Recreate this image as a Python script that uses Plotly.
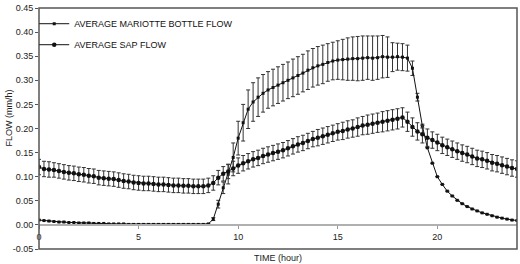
import plotly.graph_objects as go

time_h = [i * 0.25 for i in range(97)]

mariotte_flow = [
    0.010, 0.009, 0.008, 0.007,
    0.006, 0.006, 0.005, 0.005,
    0.004, 0.004, 0.004, 0.003,
    0.003, 0.003, 0.002, 0.002,
    0.002, 0.002, 0.001, 0.001,
    0.001, 0.001, 0.001, 0.001,
    0.001, 0.001, 0.001, 0.001,
    0.001, 0.001, 0.001, 0.001,
    0.001, 0.001, 0.002, 0.012,
    0.043, 0.077, 0.105, 0.140,
    0.180, 0.212, 0.240, 0.255,
    0.265, 0.273, 0.280, 0.285,
    0.290, 0.295, 0.300, 0.305,
    0.310, 0.315, 0.321, 0.326,
    0.330, 0.333, 0.337, 0.340,
    0.342, 0.343, 0.344, 0.345,
    0.345, 0.346, 0.347, 0.346,
    0.347, 0.349, 0.348, 0.348,
    0.349, 0.348, 0.346, 0.325,
    0.265, 0.205, 0.160, 0.128,
    0.100, 0.084, 0.070, 0.060,
    0.051, 0.044, 0.038, 0.033,
    0.029, 0.025, 0.022, 0.019,
    0.016, 0.014, 0.012, 0.010,
    0.009,
]

mariotte_err = [
    0.000, 0.000, 0.000, 0.000,
    0.000, 0.000, 0.000, 0.000,
    0.000, 0.000, 0.000, 0.000,
    0.000, 0.000, 0.000, 0.000,
    0.000, 0.000, 0.000, 0.000,
    0.000, 0.000, 0.000, 0.000,
    0.000, 0.000, 0.000, 0.000,
    0.000, 0.000, 0.000, 0.000,
    0.000, 0.000, 0.000, 0.003,
    0.008, 0.012, 0.020, 0.030,
    0.035, 0.038, 0.040, 0.040,
    0.040, 0.039, 0.038, 0.038,
    0.038, 0.038, 0.038, 0.039,
    0.039, 0.039, 0.040, 0.040,
    0.040, 0.040, 0.039, 0.039,
    0.040, 0.042, 0.044, 0.045,
    0.046, 0.046, 0.045, 0.046,
    0.045, 0.044, 0.042, 0.030,
    0.028, 0.028, 0.027, 0.015,
    0.008, 0.004, 0.000, 0.000,
    0.000, 0.000, 0.000, 0.000,
    0.000, 0.000, 0.000, 0.000,
    0.000, 0.000, 0.000, 0.000,
    0.000, 0.000, 0.000, 0.000,
    0.000,
]

sap_flow = [
    0.120, 0.116, 0.115, 0.114,
    0.112, 0.110, 0.108, 0.107,
    0.105, 0.104, 0.102, 0.101,
    0.098, 0.097, 0.096, 0.095,
    0.093, 0.091, 0.090, 0.088,
    0.087, 0.086, 0.086, 0.085,
    0.084, 0.084, 0.083, 0.082,
    0.082, 0.081, 0.081, 0.080,
    0.080, 0.080, 0.082, 0.087,
    0.098, 0.106, 0.111, 0.117,
    0.123, 0.128, 0.132, 0.136,
    0.139, 0.143, 0.146, 0.149,
    0.152, 0.155, 0.159, 0.163,
    0.167, 0.170, 0.174, 0.178,
    0.181, 0.184, 0.187, 0.190,
    0.193, 0.195, 0.198, 0.200,
    0.203, 0.206, 0.208, 0.210,
    0.212, 0.214, 0.216, 0.218,
    0.220, 0.223, 0.214, 0.203,
    0.194, 0.188, 0.181, 0.176,
    0.171, 0.165, 0.161, 0.157,
    0.153, 0.149, 0.146, 0.142,
    0.138, 0.136, 0.133, 0.129,
    0.127, 0.124, 0.121, 0.118,
    0.116,
]

sap_err = [
    0.016, 0.016, 0.016, 0.015,
    0.015, 0.015, 0.015, 0.015,
    0.015, 0.015, 0.015, 0.015,
    0.015, 0.015, 0.015, 0.015,
    0.015, 0.015, 0.015, 0.015,
    0.015, 0.015, 0.015, 0.015,
    0.015, 0.015, 0.015, 0.015,
    0.015, 0.015, 0.015, 0.015,
    0.015, 0.015, 0.015, 0.015,
    0.015, 0.015, 0.015, 0.015,
    0.016, 0.016, 0.016, 0.016,
    0.016, 0.016, 0.016, 0.016,
    0.016, 0.016, 0.016, 0.016,
    0.016, 0.016, 0.016, 0.016,
    0.017, 0.017, 0.017, 0.017,
    0.017, 0.018, 0.018, 0.018,
    0.019, 0.019, 0.020, 0.020,
    0.020, 0.021, 0.021, 0.021,
    0.021, 0.020, 0.020, 0.019,
    0.018, 0.018, 0.018, 0.017,
    0.017, 0.017, 0.017, 0.017,
    0.017, 0.017, 0.017, 0.017,
    0.017, 0.017, 0.017, 0.017,
    0.017, 0.017, 0.017, 0.017,
    0.017,
]

x_ticks = [0, 5, 10, 15, 20]
y_ticks = [-0.05, 0.00, 0.05, 0.10, 0.15, 0.20, 0.25, 0.30, 0.35, 0.40, 0.45]

FONT = "Liberation Sans, Arial, sans-serif"

fig = go.Figure()
fig.add_trace(go.Scatter(
    x=time_h, y=mariotte_flow, name="AVERAGE MARIOTTE BOTTLE FLOW",
    mode="lines+markers", legendgroup="m",
    line=dict(color="#111111", width=1),
    marker=dict(symbol="square", size=3, color="#111111"),
    error_y=dict(type="data", array=mariotte_err, visible=True,
                 color="#333333", thickness=1, width=2),
))
fig.add_trace(go.Scatter(
    x=time_h, y=sap_flow, name="AVERAGE SAP FLOW",
    mode="lines+markers", legendgroup="s",
    line=dict(color="#111111", width=1),
    marker=dict(symbol="circle", size=4.5, color="#111111"),
    error_y=dict(type="data", array=sap_err, visible=True,
                 color="#333333", thickness=1, width=2),
))

fig.update_layout(
    width=520, height=264,
    margin=dict(l=39, r=3, t=5, b=15),
    paper_bgcolor="white", plot_bgcolor="white",
    font=dict(family=FONT, size=9, color="#222222"),
    showlegend=True,
    legend=dict(x=-0.01, y=0.995, xanchor="left", yanchor="top",
                bgcolor="rgba(0,0,0,0)", font=dict(size=9, color="#111111"),
                tracegroupgap=2, traceorder="grouped"),
    xaxis=dict(range=[0, 24], tickvals=x_ticks, ticktext=[str(v) for v in x_ticks],
               showgrid=False, zeroline=False, showline=True,
               linecolor="#b0b0b0", linewidth=2,
               ticks="outside", ticklen=3, tickcolor="#999999",
               anchor="free", position=0.1, ticklabelstandoff=0),
    yaxis=dict(range=[-0.05, 0.45], tickvals=y_ticks,
               ticktext=[f"{v:.2f}" for v in y_ticks],
               showgrid=False, zeroline=False, showline=False,
               ticks="outside", ticklen=3, tickcolor="#555555"),
    shapes=[dict(type="rect", xref="paper", yref="paper", x0=0, x1=1, y0=0, y1=1,
                 line=dict(color="#555555", width=1.5), layer="above")],
    annotations=[
        dict(text="FLOW (mm/h)", xref="paper", yref="paper", x=0, y=0.5,
             xanchor="center", yanchor="middle",
             xshift=-31, yshift=10, textangle=-90, showarrow=False,
             font=dict(size=9, color="#222222")),
        dict(text="TIME (hour)", xref="paper", yref="paper", x=0.5, y=0,
             yanchor="bottom", yshift=-15, borderpad=0, showarrow=False,
             font=dict(size=9, color="#222222")),
    ],
)

fig.write_html("out.html")
